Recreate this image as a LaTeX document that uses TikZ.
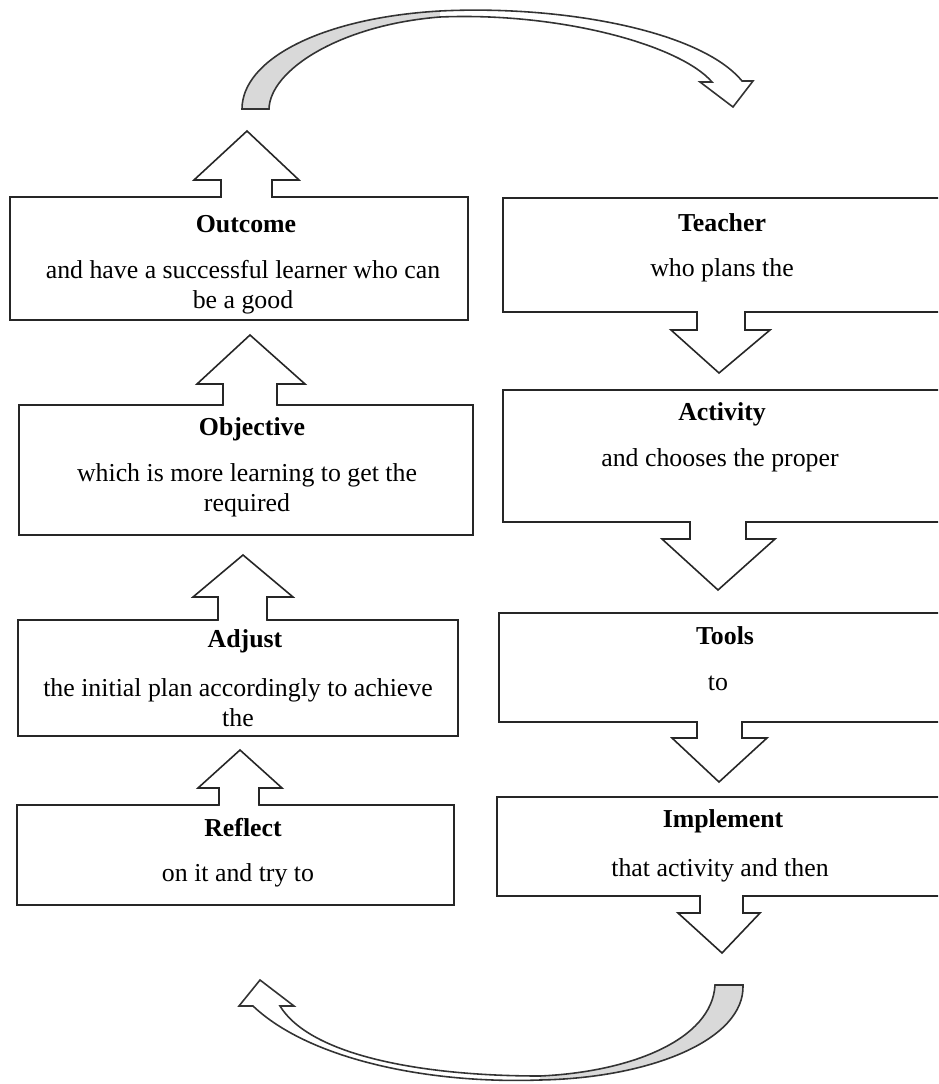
\documentclass[tikz,border=0pt]{standalone}
\usepackage{fontspec}
\setmainfont{Liberation Serif}
\usetikzlibrary{fit}
\tikzset{
  boxshape/.style={draw=black!85, line width=0.9pt, fill=white, inner sep=0pt},
  arrowline/.style={draw=black!85, line width=0.9pt, line join=miter},
  headtext/.style={font={\fontsize{14.7}{17}\selectfont\bfseries}, inner sep=0pt},
  bodytext/.style={font={\fontsize{14.7}{17.2}\selectfont}, align=center, inner sep=0pt},
  grayfill/.style={fill=black!15},
  whitefill/.style={fill=white},
  curveline/.style={draw=black!80, line width=0.9pt, line join=miter},
}
% #1 shaft left x, #2 shaft right x, #3 base y, #4 wing left x, #5 wing right x, #6 wing y, #7 tip x, #8 tip y, #9 +/-3 (into the box)
\newcommand{\blockarrow}[9]{%
  \fill[white] ([xshift=0.6pt]#1,#3) rectangle ([xshift=-0.6pt]#2,#3+#9);
  \fill[white] (#1,#3) -- (#1,#6) -- (#4,#6) -- (#7,#8) -- (#5,#6) -- (#2,#6) -- (#2,#3) -- cycle;
  \draw[arrowline] (#1,#3) -- (#1,#6) -- (#4,#6) -- (#7,#8) -- (#5,#6) -- (#2,#6) -- (#2,#3);
}
\begin{document}
\begin{tikzpicture}[x=0.02cm, y=-0.02cm]
\useasboundingbox (0,0) rectangle (938,1084);
\fill[white] (0,0) rectangle (938,1084);
\clip (0,0) rectangle (938,1084);

% ---------- left column boxes ----------
\node[boxshape, fit={(10,197) (468,320)}] (outcome) {};
\node[boxshape, fit={(19,405) (473,535)}] (objective) {};
\node[boxshape, fit={(18,620) (458,736)}] (adjust) {};
\node[boxshape, fit={(17,805) (454,905)}] (reflect) {};

% ---------- right column boxes ----------
\node[boxshape, fit={(503,198) (960,312)}] (teacher) {};
\node[boxshape, fit={(503,390) (960,522)}] (activity) {};
\node[boxshape, fit={(499,613) (960,722)}] (tools) {};
\node[boxshape, fit={(497,797) (960,896)}] (implement) {};

% ---------- block arrows (up, left column) ----------
\blockarrow{221}{272}{197}{194}{299}{180}{247}{131}{3}
\blockarrow{223}{277}{405}{197}{305}{384}{250}{335}{3}
\blockarrow{218}{267}{620}{193}{293}{597}{243}{555}{3}
\blockarrow{219}{259}{805}{198}{282}{788}{240}{750}{3}

% ---------- block arrows (down, right column) ----------
\blockarrow{697}{745}{312}{671}{770}{330}{719}{373}{-3}
\blockarrow{690}{746}{522}{662}{775}{539}{718}{590}{-3}
\blockarrow{697}{742}{722}{672}{767}{738}{719}{782}{-3}
\blockarrow{700}{743}{896}{678}{760}{913}{722}{953}{-3}

% ---------- texts ----------
\node[headtext] (outcomeH) at (246,224) {Outcome};
\node[bodytext] (outcomeB) at (243,287) {and have a successful learner who can\\be a good};
\node[headtext] (objectiveH) at (252,429) {Objective};
\node[bodytext] (objectiveB) at (247,490) {which is more learning to get the\\required};
\node[headtext] (adjustH) at (245,641) {Adjust};
\node[bodytext] (adjustB) at (238,703) {the initial plan accordingly to achieve\\the};
\node[headtext] (reflectH) at (243,828) {Reflect};
\node[bodytext] (reflectB) at (238,875) {on it and try to};

\node[headtext] (teacherH) at (722,223) {Teacher};
\node[bodytext] (teacherB) at (722,270) {who plans the};
\node[headtext] (activityH) at (722,414) {Activity};
\node[bodytext] (activityB) at (720,460) {and chooses the proper};
\node[headtext] (toolsH) at (725,636) {Tools};
\node[bodytext] (toolsB) at (718,683) {to};
\node[headtext] (implementH) at (723,821) {Implement};
\node[bodytext] (implementB) at (720,870) {that activity and then};

% ---------- top curved arrow ----------
\fill[grayfill] (242,109) .. controls (242,60) and (320,18) .. (440,11)
  -- (440,17) .. controls (340,25) and (270,70) .. (269,109) -- cycle;
\fill[whitefill] (440,11) .. controls (560,5) and (700,30) .. (742,81)
  -- (753,81) -- (733,107) -- (700,82) -- (712,82)
  .. controls (680,45) and (560,12) .. (440,17) -- cycle;
\draw[curveline] (269,109) -- (242,109)
  .. controls (242,60) and (320,18) .. (440,11)
  .. controls (560,5) and (700,30) .. (742,81)
  -- (753,81) -- (733,107) -- (700,82) -- (712,82)
  .. controls (680,45) and (560,12) .. (440,17)
  .. controls (340,25) and (270,70) .. (269,109) -- cycle;

% ---------- bottom curved arrow ----------
\fill[grayfill] (743,985) .. controls (745,1040) and (650,1078) .. (540,1080)
  -- (540,1076) .. controls (630,1072) and (712,1040) .. (715,985) -- cycle;
\fill[whitefill] (540,1080) .. controls (430,1084) and (310,1060) .. (253,1006)
  -- (239,1006) -- (260,980) -- (294,1006) -- (280,1006)
  .. controls (310,1055) and (420,1076) .. (540,1076) -- cycle;
\draw[curveline] (715,985) -- (743,985)
  .. controls (745,1040) and (650,1078) .. (540,1080)
  .. controls (430,1084) and (310,1060) .. (253,1006)
  -- (239,1006) -- (260,980) -- (294,1006) -- (280,1006)
  .. controls (310,1055) and (420,1076) .. (540,1076)
  .. controls (630,1072) and (712,1040) .. (715,985) -- cycle;
\end{tikzpicture}
\end{document}
